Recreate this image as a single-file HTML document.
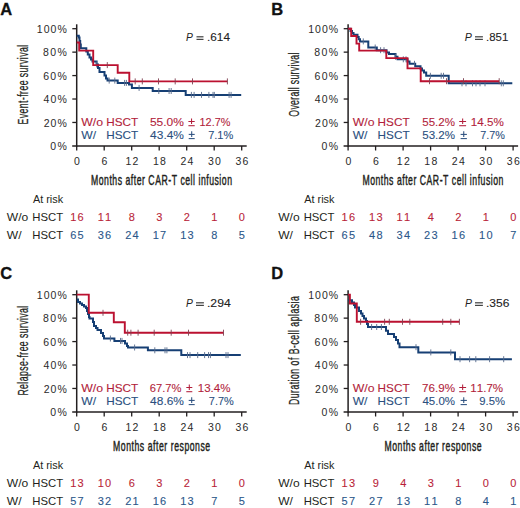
<!DOCTYPE html>
<html><head><meta charset="utf-8"><style>
html,body{margin:0;padding:0;background:#fff;width:520px;height:508px;overflow:hidden}
svg{display:block;font-family:"Liberation Sans", sans-serif;font-kerning:none}
</style></head><body>
<svg width="520" height="508" viewBox="0 0 520 508">
<rect width="520" height="508" fill="#fff"/>
<g><text x="0.30" y="14.70" font-size="16.5" fill="#111" font-weight="bold" stroke="#111" stroke-width="0.3">A</text><line x1="76.70" y1="24.30" x2="76.70" y2="146.65" stroke="#231f20" stroke-width="1.5"/><line x1="72.20" y1="145.90" x2="246.70" y2="145.90" stroke="#231f20" stroke-width="1.5"/><line x1="72.30" y1="122.46" x2="76.70" y2="122.46" stroke="#231f20" stroke-width="1.3"/><line x1="72.30" y1="99.02" x2="76.70" y2="99.02" stroke="#231f20" stroke-width="1.3"/><line x1="72.30" y1="75.58" x2="76.70" y2="75.58" stroke="#231f20" stroke-width="1.3"/><line x1="72.30" y1="52.14" x2="76.70" y2="52.14" stroke="#231f20" stroke-width="1.3"/><line x1="72.30" y1="28.70" x2="76.70" y2="28.70" stroke="#231f20" stroke-width="1.3"/><line x1="76.70" y1="145.90" x2="76.70" y2="150.50" stroke="#231f20" stroke-width="1.3"/><line x1="104.20" y1="145.90" x2="104.20" y2="150.50" stroke="#231f20" stroke-width="1.3"/><line x1="131.70" y1="145.90" x2="131.70" y2="150.50" stroke="#231f20" stroke-width="1.3"/><line x1="159.20" y1="145.90" x2="159.20" y2="150.50" stroke="#231f20" stroke-width="1.3"/><line x1="186.70" y1="145.90" x2="186.70" y2="150.50" stroke="#231f20" stroke-width="1.3"/><line x1="214.20" y1="145.90" x2="214.20" y2="150.50" stroke="#231f20" stroke-width="1.3"/><line x1="241.70" y1="145.90" x2="241.70" y2="150.50" stroke="#231f20" stroke-width="1.3"/><text x="50.19" y="150.00" font-size="10.5" fill="#2a2a2a" textLength="16.58" lengthAdjust="spacing">0%</text><text x="43.67" y="126.56" font-size="10.5" fill="#2a2a2a" textLength="23.10" lengthAdjust="spacing">20%</text><text x="43.46" y="103.12" font-size="10.5" fill="#2a2a2a" textLength="23.32" lengthAdjust="spacing">40%</text><text x="43.17" y="79.68" font-size="10.5" fill="#2a2a2a" textLength="23.61" lengthAdjust="spacing">60%</text><text x="42.94" y="56.24" font-size="10.5" fill="#2a2a2a" textLength="23.83" lengthAdjust="spacing">80%</text><text x="36.80" y="32.80" font-size="10.5" fill="#2a2a2a" textLength="29.97" lengthAdjust="spacing">100%</text><text x="76.90" y="165.40" font-size="10.5" fill="#2a2a2a" text-anchor="middle">0</text><text x="104.40" y="165.40" font-size="10.5" fill="#2a2a2a" text-anchor="middle">6</text><text x="131.90" y="165.40" font-size="10.5" fill="#2a2a2a" text-anchor="middle" textLength="12.98" lengthAdjust="spacing">12</text><text x="159.40" y="165.40" font-size="10.5" fill="#2a2a2a" text-anchor="middle" textLength="12.98" lengthAdjust="spacing">18</text><text x="186.90" y="165.40" font-size="10.5" fill="#2a2a2a" text-anchor="middle" textLength="12.98" lengthAdjust="spacing">24</text><text x="214.40" y="165.40" font-size="10.5" fill="#2a2a2a" text-anchor="middle" textLength="12.98" lengthAdjust="spacing">30</text><text x="241.90" y="165.40" font-size="10.5" fill="#2a2a2a" text-anchor="middle" textLength="12.98" lengthAdjust="spacing">36</text><text transform="translate(27.90,84.65) rotate(-90) scale(0.62,1)" font-size="14" text-anchor="middle" fill="#231f20" stroke="#231f20" stroke-width="0.25" textLength="128.39" lengthAdjust="spacing">Event-free survival</text><text transform="translate(91.00,184.60) scale(0.62,1)" font-size="14" fill="#231f20" stroke="#231f20" stroke-width="0.45" textLength="227.42" lengthAdjust="spacing">Months after CAR-T cell infusion</text><text x="186.08" y="41.20" font-size="11.5" font-style="italic" fill="#222" textLength="6.88" lengthAdjust="spacingAndGlyphs">P</text><line x1="196.50" y1="36.80" x2="203.50" y2="36.80" stroke="#444" stroke-width="1.25"/><line x1="196.50" y1="39.40" x2="203.50" y2="39.40" stroke="#444" stroke-width="1.25"/><text x="207.02" y="41.20" font-size="11.5" fill="#222" textLength="22.92" lengthAdjust="spacingAndGlyphs" stroke="#222" stroke-width="0.1">.614</text><text x="81.25" y="126.40" font-size="11.5" fill="#b21e3b" textLength="21.87" lengthAdjust="spacingAndGlyphs" stroke="#b21e3b" stroke-width="0.1">W/o</text><text x="106.24" y="126.40" font-size="11.5" fill="#b21e3b" textLength="31.93" lengthAdjust="spacingAndGlyphs" stroke="#b21e3b" stroke-width="0.1">HSCT</text><text x="149.92" y="126.40" font-size="11.5" fill="#b21e3b" textLength="34.01" lengthAdjust="spacingAndGlyphs" stroke="#b21e3b" stroke-width="0.1">55.0%</text><line x1="191.55" y1="118.40" x2="191.55" y2="124.00" stroke="#b21e3b" stroke-width="1.05"/><line x1="188.40" y1="121.50" x2="194.70" y2="121.50" stroke="#b21e3b" stroke-width="1.05"/><line x1="188.40" y1="125.70" x2="194.70" y2="125.70" stroke="#b21e3b" stroke-width="1.05"/><text x="199.57" y="126.40" font-size="11.5" fill="#b21e3b" textLength="30.82" lengthAdjust="spacingAndGlyphs" stroke="#b21e3b" stroke-width="0.1">12.7%</text><text x="81.25" y="139.30" font-size="11.5" fill="#2b4f7e" textLength="14.85" lengthAdjust="spacingAndGlyphs" stroke="#2b4f7e" stroke-width="0.1">W/</text><text x="106.24" y="139.30" font-size="11.5" fill="#2b4f7e" textLength="31.93" lengthAdjust="spacingAndGlyphs" stroke="#2b4f7e" stroke-width="0.1">HSCT</text><text x="150.13" y="139.30" font-size="11.5" fill="#2b4f7e" textLength="33.80" lengthAdjust="spacingAndGlyphs" stroke="#2b4f7e" stroke-width="0.1">43.4%</text><line x1="191.70" y1="131.30" x2="191.70" y2="136.90" stroke="#2b4f7e" stroke-width="1.05"/><line x1="188.70" y1="134.40" x2="194.70" y2="134.40" stroke="#2b4f7e" stroke-width="1.05"/><line x1="188.70" y1="138.60" x2="194.70" y2="138.60" stroke="#2b4f7e" stroke-width="1.05"/><text x="208.13" y="139.30" font-size="11.5" fill="#2b4f7e" textLength="25.16" lengthAdjust="spacingAndGlyphs" stroke="#2b4f7e" stroke-width="0.1">7.1%</text><text x="32.88" y="203.10" font-size="11" fill="#231f20" textLength="30.21" lengthAdjust="spacingAndGlyphs">At risk</text><text x="6.75" y="221.00" font-size="11" fill="#231f20" textLength="21.46" lengthAdjust="spacingAndGlyphs">W/o</text><text x="32.27" y="221.00" font-size="11" fill="#231f20" textLength="30.79" lengthAdjust="spacingAndGlyphs">HSCT</text><text x="6.75" y="238.50" font-size="11" fill="#231f20" textLength="14.75" lengthAdjust="spacingAndGlyphs">W/</text><text x="32.27" y="238.50" font-size="11" fill="#231f20" textLength="30.79" lengthAdjust="spacingAndGlyphs">HSCT</text><text x="76.90" y="221.00" font-size="11" fill="#b91f3a" text-anchor="middle" textLength="13.44" lengthAdjust="spacing" stroke="#b91f3a" stroke-width="0.1">16</text><text x="76.90" y="238.50" font-size="11" fill="#2b578a" text-anchor="middle" textLength="13.44" lengthAdjust="spacing" stroke="#2b578a" stroke-width="0.1">65</text><text x="104.40" y="221.00" font-size="11" fill="#b91f3a" text-anchor="middle" textLength="13.44" lengthAdjust="spacing" stroke="#b91f3a" stroke-width="0.1">11</text><text x="104.40" y="238.50" font-size="11" fill="#2b578a" text-anchor="middle" textLength="13.44" lengthAdjust="spacing" stroke="#2b578a" stroke-width="0.1">36</text><text x="131.90" y="221.00" font-size="11" fill="#b91f3a" text-anchor="middle" stroke="#b91f3a" stroke-width="0.1">8</text><text x="131.90" y="238.50" font-size="11" fill="#2b578a" text-anchor="middle" textLength="13.44" lengthAdjust="spacing" stroke="#2b578a" stroke-width="0.1">24</text><text x="159.40" y="221.00" font-size="11" fill="#b91f3a" text-anchor="middle" stroke="#b91f3a" stroke-width="0.1">3</text><text x="159.40" y="238.50" font-size="11" fill="#2b578a" text-anchor="middle" textLength="13.44" lengthAdjust="spacing" stroke="#2b578a" stroke-width="0.1">17</text><text x="186.90" y="221.00" font-size="11" fill="#b91f3a" text-anchor="middle" stroke="#b91f3a" stroke-width="0.1">2</text><text x="186.90" y="238.50" font-size="11" fill="#2b578a" text-anchor="middle" textLength="13.44" lengthAdjust="spacing" stroke="#2b578a" stroke-width="0.1">13</text><text x="214.40" y="221.00" font-size="11" fill="#b91f3a" text-anchor="middle" stroke="#b91f3a" stroke-width="0.1">1</text><text x="214.40" y="238.50" font-size="11" fill="#2b578a" text-anchor="middle" stroke="#2b578a" stroke-width="0.1">8</text><text x="241.90" y="221.00" font-size="11" fill="#b91f3a" text-anchor="middle" stroke="#b91f3a" stroke-width="0.1">0</text><text x="241.90" y="238.50" font-size="11" fill="#2b578a" text-anchor="middle" stroke="#2b578a" stroke-width="0.1">5</text></g><g><text x="271.20" y="14.70" font-size="16.5" fill="#111" font-weight="bold" stroke="#111" stroke-width="0.3">B</text><line x1="348.10" y1="24.30" x2="348.10" y2="146.65" stroke="#231f20" stroke-width="1.5"/><line x1="343.60" y1="145.90" x2="518.10" y2="145.90" stroke="#231f20" stroke-width="1.5"/><line x1="343.70" y1="122.46" x2="348.10" y2="122.46" stroke="#231f20" stroke-width="1.3"/><line x1="343.70" y1="99.02" x2="348.10" y2="99.02" stroke="#231f20" stroke-width="1.3"/><line x1="343.70" y1="75.58" x2="348.10" y2="75.58" stroke="#231f20" stroke-width="1.3"/><line x1="343.70" y1="52.14" x2="348.10" y2="52.14" stroke="#231f20" stroke-width="1.3"/><line x1="343.70" y1="28.70" x2="348.10" y2="28.70" stroke="#231f20" stroke-width="1.3"/><line x1="348.10" y1="145.90" x2="348.10" y2="150.50" stroke="#231f20" stroke-width="1.3"/><line x1="375.60" y1="145.90" x2="375.60" y2="150.50" stroke="#231f20" stroke-width="1.3"/><line x1="403.10" y1="145.90" x2="403.10" y2="150.50" stroke="#231f20" stroke-width="1.3"/><line x1="430.60" y1="145.90" x2="430.60" y2="150.50" stroke="#231f20" stroke-width="1.3"/><line x1="458.10" y1="145.90" x2="458.10" y2="150.50" stroke="#231f20" stroke-width="1.3"/><line x1="485.60" y1="145.90" x2="485.60" y2="150.50" stroke="#231f20" stroke-width="1.3"/><line x1="513.10" y1="145.90" x2="513.10" y2="150.50" stroke="#231f20" stroke-width="1.3"/><text x="321.59" y="150.00" font-size="10.5" fill="#2a2a2a" textLength="16.58" lengthAdjust="spacing">0%</text><text x="315.07" y="126.56" font-size="10.5" fill="#2a2a2a" textLength="23.10" lengthAdjust="spacing">20%</text><text x="314.86" y="103.12" font-size="10.5" fill="#2a2a2a" textLength="23.32" lengthAdjust="spacing">40%</text><text x="314.57" y="79.68" font-size="10.5" fill="#2a2a2a" textLength="23.61" lengthAdjust="spacing">60%</text><text x="314.34" y="56.24" font-size="10.5" fill="#2a2a2a" textLength="23.83" lengthAdjust="spacing">80%</text><text x="308.20" y="32.80" font-size="10.5" fill="#2a2a2a" textLength="29.97" lengthAdjust="spacing">100%</text><text x="348.30" y="165.40" font-size="10.5" fill="#2a2a2a" text-anchor="middle">0</text><text x="375.80" y="165.40" font-size="10.5" fill="#2a2a2a" text-anchor="middle">6</text><text x="403.30" y="165.40" font-size="10.5" fill="#2a2a2a" text-anchor="middle" textLength="12.98" lengthAdjust="spacing">12</text><text x="430.80" y="165.40" font-size="10.5" fill="#2a2a2a" text-anchor="middle" textLength="12.98" lengthAdjust="spacing">18</text><text x="458.30" y="165.40" font-size="10.5" fill="#2a2a2a" text-anchor="middle" textLength="12.98" lengthAdjust="spacing">24</text><text x="485.80" y="165.40" font-size="10.5" fill="#2a2a2a" text-anchor="middle" textLength="12.98" lengthAdjust="spacing">30</text><text x="513.30" y="165.40" font-size="10.5" fill="#2a2a2a" text-anchor="middle" textLength="12.98" lengthAdjust="spacing">36</text><text transform="translate(299.30,84.65) rotate(-90) scale(0.62,1)" font-size="14" text-anchor="middle" fill="#231f20" stroke="#231f20" stroke-width="0.25" textLength="103.23" lengthAdjust="spacing">Overall survival</text><text transform="translate(362.40,184.60) scale(0.62,1)" font-size="14" fill="#231f20" stroke="#231f20" stroke-width="0.45" textLength="227.42" lengthAdjust="spacing">Months after CAR-T cell infusion</text><text x="464.87" y="41.20" font-size="11.5" font-style="italic" fill="#222" textLength="7.09" lengthAdjust="spacingAndGlyphs">P</text><line x1="475.00" y1="36.80" x2="482.90" y2="36.80" stroke="#444" stroke-width="1.25"/><line x1="475.00" y1="39.40" x2="482.90" y2="39.40" stroke="#444" stroke-width="1.25"/><text x="486.06" y="41.20" font-size="11.5" fill="#222" textLength="22.20" lengthAdjust="spacingAndGlyphs" stroke="#222" stroke-width="0.1">.851</text><text x="352.65" y="126.40" font-size="11.5" fill="#b21e3b" textLength="21.87" lengthAdjust="spacingAndGlyphs" stroke="#b21e3b" stroke-width="0.1">W/o</text><text x="377.64" y="126.40" font-size="11.5" fill="#b21e3b" textLength="31.93" lengthAdjust="spacingAndGlyphs" stroke="#b21e3b" stroke-width="0.1">HSCT</text><text x="422.24" y="126.40" font-size="11.5" fill="#b21e3b" textLength="32.77" lengthAdjust="spacingAndGlyphs" stroke="#b21e3b" stroke-width="0.1">55.2%</text><line x1="462.65" y1="118.40" x2="462.65" y2="124.00" stroke="#b21e3b" stroke-width="1.05"/><line x1="459.20" y1="121.50" x2="466.10" y2="121.50" stroke="#b21e3b" stroke-width="1.05"/><line x1="459.20" y1="125.70" x2="466.10" y2="125.70" stroke="#b21e3b" stroke-width="1.05"/><text x="470.81" y="126.40" font-size="11.5" fill="#b21e3b" textLength="33.00" lengthAdjust="spacingAndGlyphs" stroke="#b21e3b" stroke-width="0.1">14.5%</text><text x="352.65" y="139.30" font-size="11.5" fill="#2b4f7e" textLength="14.85" lengthAdjust="spacingAndGlyphs" stroke="#2b4f7e" stroke-width="0.1">W/</text><text x="377.64" y="139.30" font-size="11.5" fill="#2b4f7e" textLength="31.93" lengthAdjust="spacingAndGlyphs" stroke="#2b4f7e" stroke-width="0.1">HSCT</text><text x="422.24" y="139.30" font-size="11.5" fill="#2b4f7e" textLength="32.77" lengthAdjust="spacingAndGlyphs" stroke="#2b4f7e" stroke-width="0.1">53.2%</text><line x1="463.75" y1="131.30" x2="463.75" y2="136.90" stroke="#2b4f7e" stroke-width="1.05"/><line x1="460.60" y1="134.40" x2="466.90" y2="134.40" stroke="#2b4f7e" stroke-width="1.05"/><line x1="460.60" y1="138.60" x2="466.90" y2="138.60" stroke="#2b4f7e" stroke-width="1.05"/><text x="480.24" y="139.30" font-size="11.5" fill="#2b4f7e" textLength="24.74" lengthAdjust="spacingAndGlyphs" stroke="#2b4f7e" stroke-width="0.1">7.7%</text><text x="304.28" y="203.10" font-size="11" fill="#231f20" textLength="30.21" lengthAdjust="spacingAndGlyphs">At risk</text><text x="278.15" y="221.00" font-size="11" fill="#231f20" textLength="21.46" lengthAdjust="spacingAndGlyphs">W/o</text><text x="303.67" y="221.00" font-size="11" fill="#231f20" textLength="30.79" lengthAdjust="spacingAndGlyphs">HSCT</text><text x="278.15" y="238.50" font-size="11" fill="#231f20" textLength="14.75" lengthAdjust="spacingAndGlyphs">W/</text><text x="303.67" y="238.50" font-size="11" fill="#231f20" textLength="30.79" lengthAdjust="spacingAndGlyphs">HSCT</text><text x="348.30" y="221.00" font-size="11" fill="#b91f3a" text-anchor="middle" textLength="13.44" lengthAdjust="spacing" stroke="#b91f3a" stroke-width="0.1">16</text><text x="348.30" y="238.50" font-size="11" fill="#2b578a" text-anchor="middle" textLength="13.44" lengthAdjust="spacing" stroke="#2b578a" stroke-width="0.1">65</text><text x="375.80" y="221.00" font-size="11" fill="#b91f3a" text-anchor="middle" textLength="13.44" lengthAdjust="spacing" stroke="#b91f3a" stroke-width="0.1">13</text><text x="375.80" y="238.50" font-size="11" fill="#2b578a" text-anchor="middle" textLength="13.44" lengthAdjust="spacing" stroke="#2b578a" stroke-width="0.1">48</text><text x="403.30" y="221.00" font-size="11" fill="#b91f3a" text-anchor="middle" textLength="13.44" lengthAdjust="spacing" stroke="#b91f3a" stroke-width="0.1">11</text><text x="403.30" y="238.50" font-size="11" fill="#2b578a" text-anchor="middle" textLength="13.44" lengthAdjust="spacing" stroke="#2b578a" stroke-width="0.1">34</text><text x="430.80" y="221.00" font-size="11" fill="#b91f3a" text-anchor="middle" stroke="#b91f3a" stroke-width="0.1">4</text><text x="430.80" y="238.50" font-size="11" fill="#2b578a" text-anchor="middle" textLength="13.44" lengthAdjust="spacing" stroke="#2b578a" stroke-width="0.1">23</text><text x="458.30" y="221.00" font-size="11" fill="#b91f3a" text-anchor="middle" stroke="#b91f3a" stroke-width="0.1">2</text><text x="458.30" y="238.50" font-size="11" fill="#2b578a" text-anchor="middle" textLength="13.44" lengthAdjust="spacing" stroke="#2b578a" stroke-width="0.1">16</text><text x="485.80" y="221.00" font-size="11" fill="#b91f3a" text-anchor="middle" stroke="#b91f3a" stroke-width="0.1">1</text><text x="485.80" y="238.50" font-size="11" fill="#2b578a" text-anchor="middle" textLength="13.44" lengthAdjust="spacing" stroke="#2b578a" stroke-width="0.1">10</text><text x="513.30" y="221.00" font-size="11" fill="#b91f3a" text-anchor="middle" stroke="#b91f3a" stroke-width="0.1">0</text><text x="513.30" y="238.50" font-size="11" fill="#2b578a" text-anchor="middle" stroke="#2b578a" stroke-width="0.1">7</text></g><g><text x="0.30" y="279.20" font-size="16.5" fill="#111" font-weight="bold" stroke="#111" stroke-width="0.3">C</text><line x1="76.70" y1="290.30" x2="76.70" y2="412.65" stroke="#231f20" stroke-width="1.5"/><line x1="72.20" y1="411.90" x2="246.70" y2="411.90" stroke="#231f20" stroke-width="1.5"/><line x1="72.30" y1="388.46" x2="76.70" y2="388.46" stroke="#231f20" stroke-width="1.3"/><line x1="72.30" y1="365.02" x2="76.70" y2="365.02" stroke="#231f20" stroke-width="1.3"/><line x1="72.30" y1="341.58" x2="76.70" y2="341.58" stroke="#231f20" stroke-width="1.3"/><line x1="72.30" y1="318.14" x2="76.70" y2="318.14" stroke="#231f20" stroke-width="1.3"/><line x1="72.30" y1="294.70" x2="76.70" y2="294.70" stroke="#231f20" stroke-width="1.3"/><line x1="76.70" y1="411.90" x2="76.70" y2="416.50" stroke="#231f20" stroke-width="1.3"/><line x1="104.20" y1="411.90" x2="104.20" y2="416.50" stroke="#231f20" stroke-width="1.3"/><line x1="131.70" y1="411.90" x2="131.70" y2="416.50" stroke="#231f20" stroke-width="1.3"/><line x1="159.20" y1="411.90" x2="159.20" y2="416.50" stroke="#231f20" stroke-width="1.3"/><line x1="186.70" y1="411.90" x2="186.70" y2="416.50" stroke="#231f20" stroke-width="1.3"/><line x1="214.20" y1="411.90" x2="214.20" y2="416.50" stroke="#231f20" stroke-width="1.3"/><line x1="241.70" y1="411.90" x2="241.70" y2="416.50" stroke="#231f20" stroke-width="1.3"/><text x="50.19" y="416.00" font-size="10.5" fill="#2a2a2a" textLength="16.58" lengthAdjust="spacing">0%</text><text x="43.67" y="392.56" font-size="10.5" fill="#2a2a2a" textLength="23.10" lengthAdjust="spacing">20%</text><text x="43.46" y="369.12" font-size="10.5" fill="#2a2a2a" textLength="23.32" lengthAdjust="spacing">40%</text><text x="43.17" y="345.68" font-size="10.5" fill="#2a2a2a" textLength="23.61" lengthAdjust="spacing">60%</text><text x="42.94" y="322.24" font-size="10.5" fill="#2a2a2a" textLength="23.83" lengthAdjust="spacing">80%</text><text x="36.80" y="298.80" font-size="10.5" fill="#2a2a2a" textLength="29.97" lengthAdjust="spacing">100%</text><text x="76.90" y="431.40" font-size="10.5" fill="#2a2a2a" text-anchor="middle">0</text><text x="104.40" y="431.40" font-size="10.5" fill="#2a2a2a" text-anchor="middle">6</text><text x="131.90" y="431.40" font-size="10.5" fill="#2a2a2a" text-anchor="middle" textLength="12.98" lengthAdjust="spacing">12</text><text x="159.40" y="431.40" font-size="10.5" fill="#2a2a2a" text-anchor="middle" textLength="12.98" lengthAdjust="spacing">18</text><text x="186.90" y="431.40" font-size="10.5" fill="#2a2a2a" text-anchor="middle" textLength="12.98" lengthAdjust="spacing">24</text><text x="214.40" y="431.40" font-size="10.5" fill="#2a2a2a" text-anchor="middle" textLength="12.98" lengthAdjust="spacing">30</text><text x="241.90" y="431.40" font-size="10.5" fill="#2a2a2a" text-anchor="middle" textLength="12.98" lengthAdjust="spacing">36</text><text transform="translate(27.90,350.65) rotate(-90) scale(0.62,1)" font-size="14" text-anchor="middle" fill="#231f20" stroke="#231f20" stroke-width="0.25" textLength="145.00" lengthAdjust="spacing">Relapse-free survival</text><text transform="translate(113.00,450.60) scale(0.62,1)" font-size="14" fill="#231f20" stroke="#231f20" stroke-width="0.45" textLength="156.77" lengthAdjust="spacing">Months after response</text><text x="186.08" y="307.20" font-size="11.5" font-style="italic" fill="#222" textLength="6.88" lengthAdjust="spacingAndGlyphs">P</text><line x1="196.00" y1="302.80" x2="203.90" y2="302.80" stroke="#444" stroke-width="1.25"/><line x1="196.00" y1="305.40" x2="203.90" y2="305.40" stroke="#444" stroke-width="1.25"/><text x="206.98" y="307.20" font-size="11.5" fill="#222" textLength="23.77" lengthAdjust="spacingAndGlyphs" stroke="#222" stroke-width="0.1">.294</text><text x="81.25" y="392.40" font-size="11.5" fill="#b21e3b" textLength="21.87" lengthAdjust="spacingAndGlyphs" stroke="#b21e3b" stroke-width="0.1">W/o</text><text x="106.24" y="392.40" font-size="11.5" fill="#b21e3b" textLength="31.93" lengthAdjust="spacingAndGlyphs" stroke="#b21e3b" stroke-width="0.1">HSCT</text><text x="149.83" y="392.40" font-size="11.5" fill="#b21e3b" textLength="31.67" lengthAdjust="spacingAndGlyphs" stroke="#b21e3b" stroke-width="0.1">67.7%</text><line x1="189.30" y1="384.40" x2="189.30" y2="390.00" stroke="#b21e3b" stroke-width="1.05"/><line x1="186.30" y1="387.50" x2="192.30" y2="387.50" stroke="#b21e3b" stroke-width="1.05"/><line x1="186.30" y1="391.70" x2="192.30" y2="391.70" stroke="#b21e3b" stroke-width="1.05"/><text x="197.82" y="392.40" font-size="11.5" fill="#b21e3b" textLength="32.58" lengthAdjust="spacingAndGlyphs" stroke="#b21e3b" stroke-width="0.1">13.4%</text><text x="81.25" y="405.30" font-size="11.5" fill="#2b4f7e" textLength="14.85" lengthAdjust="spacingAndGlyphs" stroke="#2b4f7e" stroke-width="0.1">W/</text><text x="106.24" y="405.30" font-size="11.5" fill="#2b4f7e" textLength="31.93" lengthAdjust="spacingAndGlyphs" stroke="#2b4f7e" stroke-width="0.1">HSCT</text><text x="150.13" y="405.30" font-size="11.5" fill="#2b4f7e" textLength="33.80" lengthAdjust="spacingAndGlyphs" stroke="#2b4f7e" stroke-width="0.1">48.6%</text><line x1="191.70" y1="397.30" x2="191.70" y2="402.90" stroke="#2b4f7e" stroke-width="1.05"/><line x1="188.70" y1="400.40" x2="194.70" y2="400.40" stroke="#2b4f7e" stroke-width="1.05"/><line x1="188.70" y1="404.60" x2="194.70" y2="404.60" stroke="#2b4f7e" stroke-width="1.05"/><text x="208.84" y="405.30" font-size="11.5" fill="#2b4f7e" textLength="24.95" lengthAdjust="spacingAndGlyphs" stroke="#2b4f7e" stroke-width="0.1">7.7%</text><text x="32.88" y="469.10" font-size="11" fill="#231f20" textLength="30.21" lengthAdjust="spacingAndGlyphs">At risk</text><text x="6.75" y="487.00" font-size="11" fill="#231f20" textLength="21.46" lengthAdjust="spacingAndGlyphs">W/o</text><text x="32.27" y="487.00" font-size="11" fill="#231f20" textLength="30.79" lengthAdjust="spacingAndGlyphs">HSCT</text><text x="6.75" y="504.50" font-size="11" fill="#231f20" textLength="14.75" lengthAdjust="spacingAndGlyphs">W/</text><text x="32.27" y="504.50" font-size="11" fill="#231f20" textLength="30.79" lengthAdjust="spacingAndGlyphs">HSCT</text><text x="76.90" y="487.00" font-size="11" fill="#b91f3a" text-anchor="middle" textLength="13.44" lengthAdjust="spacing" stroke="#b91f3a" stroke-width="0.1">13</text><text x="76.90" y="504.50" font-size="11" fill="#2b578a" text-anchor="middle" textLength="13.44" lengthAdjust="spacing" stroke="#2b578a" stroke-width="0.1">57</text><text x="104.40" y="487.00" font-size="11" fill="#b91f3a" text-anchor="middle" textLength="13.44" lengthAdjust="spacing" stroke="#b91f3a" stroke-width="0.1">10</text><text x="104.40" y="504.50" font-size="11" fill="#2b578a" text-anchor="middle" textLength="13.44" lengthAdjust="spacing" stroke="#2b578a" stroke-width="0.1">32</text><text x="131.90" y="487.00" font-size="11" fill="#b91f3a" text-anchor="middle" stroke="#b91f3a" stroke-width="0.1">6</text><text x="131.90" y="504.50" font-size="11" fill="#2b578a" text-anchor="middle" textLength="13.44" lengthAdjust="spacing" stroke="#2b578a" stroke-width="0.1">21</text><text x="159.40" y="487.00" font-size="11" fill="#b91f3a" text-anchor="middle" stroke="#b91f3a" stroke-width="0.1">3</text><text x="159.40" y="504.50" font-size="11" fill="#2b578a" text-anchor="middle" textLength="13.44" lengthAdjust="spacing" stroke="#2b578a" stroke-width="0.1">16</text><text x="186.90" y="487.00" font-size="11" fill="#b91f3a" text-anchor="middle" stroke="#b91f3a" stroke-width="0.1">2</text><text x="186.90" y="504.50" font-size="11" fill="#2b578a" text-anchor="middle" textLength="13.44" lengthAdjust="spacing" stroke="#2b578a" stroke-width="0.1">13</text><text x="214.40" y="487.00" font-size="11" fill="#b91f3a" text-anchor="middle" stroke="#b91f3a" stroke-width="0.1">1</text><text x="214.40" y="504.50" font-size="11" fill="#2b578a" text-anchor="middle" stroke="#2b578a" stroke-width="0.1">7</text><text x="241.90" y="487.00" font-size="11" fill="#b91f3a" text-anchor="middle" stroke="#b91f3a" stroke-width="0.1">0</text><text x="241.90" y="504.50" font-size="11" fill="#2b578a" text-anchor="middle" stroke="#2b578a" stroke-width="0.1">5</text></g><g><text x="271.20" y="279.20" font-size="16.5" fill="#111" font-weight="bold" stroke="#111" stroke-width="0.3">D</text><line x1="348.10" y1="290.30" x2="348.10" y2="412.65" stroke="#231f20" stroke-width="1.5"/><line x1="343.60" y1="411.90" x2="518.10" y2="411.90" stroke="#231f20" stroke-width="1.5"/><line x1="343.70" y1="388.46" x2="348.10" y2="388.46" stroke="#231f20" stroke-width="1.3"/><line x1="343.70" y1="365.02" x2="348.10" y2="365.02" stroke="#231f20" stroke-width="1.3"/><line x1="343.70" y1="341.58" x2="348.10" y2="341.58" stroke="#231f20" stroke-width="1.3"/><line x1="343.70" y1="318.14" x2="348.10" y2="318.14" stroke="#231f20" stroke-width="1.3"/><line x1="343.70" y1="294.70" x2="348.10" y2="294.70" stroke="#231f20" stroke-width="1.3"/><line x1="348.10" y1="411.90" x2="348.10" y2="416.50" stroke="#231f20" stroke-width="1.3"/><line x1="375.60" y1="411.90" x2="375.60" y2="416.50" stroke="#231f20" stroke-width="1.3"/><line x1="403.10" y1="411.90" x2="403.10" y2="416.50" stroke="#231f20" stroke-width="1.3"/><line x1="430.60" y1="411.90" x2="430.60" y2="416.50" stroke="#231f20" stroke-width="1.3"/><line x1="458.10" y1="411.90" x2="458.10" y2="416.50" stroke="#231f20" stroke-width="1.3"/><line x1="485.60" y1="411.90" x2="485.60" y2="416.50" stroke="#231f20" stroke-width="1.3"/><line x1="513.10" y1="411.90" x2="513.10" y2="416.50" stroke="#231f20" stroke-width="1.3"/><text x="321.59" y="416.00" font-size="10.5" fill="#2a2a2a" textLength="16.58" lengthAdjust="spacing">0%</text><text x="315.07" y="392.56" font-size="10.5" fill="#2a2a2a" textLength="23.10" lengthAdjust="spacing">20%</text><text x="314.86" y="369.12" font-size="10.5" fill="#2a2a2a" textLength="23.32" lengthAdjust="spacing">40%</text><text x="314.57" y="345.68" font-size="10.5" fill="#2a2a2a" textLength="23.61" lengthAdjust="spacing">60%</text><text x="314.34" y="322.24" font-size="10.5" fill="#2a2a2a" textLength="23.83" lengthAdjust="spacing">80%</text><text x="308.20" y="298.80" font-size="10.5" fill="#2a2a2a" textLength="29.97" lengthAdjust="spacing">100%</text><text x="348.30" y="431.40" font-size="10.5" fill="#2a2a2a" text-anchor="middle">0</text><text x="375.80" y="431.40" font-size="10.5" fill="#2a2a2a" text-anchor="middle">6</text><text x="403.30" y="431.40" font-size="10.5" fill="#2a2a2a" text-anchor="middle" textLength="12.98" lengthAdjust="spacing">12</text><text x="430.80" y="431.40" font-size="10.5" fill="#2a2a2a" text-anchor="middle" textLength="12.98" lengthAdjust="spacing">18</text><text x="458.30" y="431.40" font-size="10.5" fill="#2a2a2a" text-anchor="middle" textLength="12.98" lengthAdjust="spacing">24</text><text x="485.80" y="431.40" font-size="10.5" fill="#2a2a2a" text-anchor="middle" textLength="12.98" lengthAdjust="spacing">30</text><text x="513.30" y="431.40" font-size="10.5" fill="#2a2a2a" text-anchor="middle" textLength="12.98" lengthAdjust="spacing">36</text><text transform="translate(299.30,350.65) rotate(-90) scale(0.62,1)" font-size="14" text-anchor="middle" fill="#231f20" stroke="#231f20" stroke-width="0.25" textLength="175.65" lengthAdjust="spacing">Duration of B-cell aplasia</text><text transform="translate(384.40,450.60) scale(0.62,1)" font-size="14" fill="#231f20" stroke="#231f20" stroke-width="0.45" textLength="156.77" lengthAdjust="spacing">Months after response</text><text x="464.88" y="307.20" font-size="11.5" font-style="italic" fill="#222" textLength="6.99" lengthAdjust="spacingAndGlyphs">P</text><line x1="475.00" y1="302.80" x2="482.90" y2="302.80" stroke="#444" stroke-width="1.25"/><line x1="475.00" y1="305.40" x2="482.90" y2="305.40" stroke="#444" stroke-width="1.25"/><text x="486.01" y="307.20" font-size="11.5" fill="#222" textLength="23.32" lengthAdjust="spacingAndGlyphs" stroke="#222" stroke-width="0.1">.356</text><text x="352.65" y="392.40" font-size="11.5" fill="#b21e3b" textLength="21.87" lengthAdjust="spacingAndGlyphs" stroke="#b21e3b" stroke-width="0.1">W/o</text><text x="377.64" y="392.40" font-size="11.5" fill="#b21e3b" textLength="31.93" lengthAdjust="spacingAndGlyphs" stroke="#b21e3b" stroke-width="0.1">HSCT</text><text x="422.10" y="392.40" font-size="11.5" fill="#b21e3b" textLength="32.91" lengthAdjust="spacingAndGlyphs" stroke="#b21e3b" stroke-width="0.1">76.9%</text><line x1="462.65" y1="384.40" x2="462.65" y2="390.00" stroke="#b21e3b" stroke-width="1.05"/><line x1="459.20" y1="387.50" x2="466.10" y2="387.50" stroke="#b21e3b" stroke-width="1.05"/><line x1="459.20" y1="391.70" x2="466.10" y2="391.70" stroke="#b21e3b" stroke-width="1.05"/><text x="470.32" y="392.40" font-size="11.5" fill="#b21e3b" textLength="32.79" lengthAdjust="spacingAndGlyphs" stroke="#b21e3b" stroke-width="0.1">11.7%</text><text x="352.65" y="405.30" font-size="11.5" fill="#2b4f7e" textLength="14.85" lengthAdjust="spacingAndGlyphs" stroke="#2b4f7e" stroke-width="0.1">W/</text><text x="377.64" y="405.30" font-size="11.5" fill="#2b4f7e" textLength="31.93" lengthAdjust="spacingAndGlyphs" stroke="#2b4f7e" stroke-width="0.1">HSCT</text><text x="422.44" y="405.30" font-size="11.5" fill="#2b4f7e" textLength="32.57" lengthAdjust="spacingAndGlyphs" stroke="#2b4f7e" stroke-width="0.1">45.0%</text><line x1="463.75" y1="397.30" x2="463.75" y2="402.90" stroke="#2b4f7e" stroke-width="1.05"/><line x1="460.60" y1="400.40" x2="466.90" y2="400.40" stroke="#2b4f7e" stroke-width="1.05"/><line x1="460.60" y1="404.60" x2="466.90" y2="404.60" stroke="#2b4f7e" stroke-width="1.05"/><text x="479.27" y="405.30" font-size="11.5" fill="#2b4f7e" textLength="25.73" lengthAdjust="spacingAndGlyphs" stroke="#2b4f7e" stroke-width="0.1">9.5%</text><text x="304.28" y="469.10" font-size="11" fill="#231f20" textLength="30.21" lengthAdjust="spacingAndGlyphs">At risk</text><text x="278.15" y="487.00" font-size="11" fill="#231f20" textLength="21.46" lengthAdjust="spacingAndGlyphs">W/o</text><text x="303.67" y="487.00" font-size="11" fill="#231f20" textLength="30.79" lengthAdjust="spacingAndGlyphs">HSCT</text><text x="278.15" y="504.50" font-size="11" fill="#231f20" textLength="14.75" lengthAdjust="spacingAndGlyphs">W/</text><text x="303.67" y="504.50" font-size="11" fill="#231f20" textLength="30.79" lengthAdjust="spacingAndGlyphs">HSCT</text><text x="348.30" y="487.00" font-size="11" fill="#b91f3a" text-anchor="middle" textLength="13.44" lengthAdjust="spacing" stroke="#b91f3a" stroke-width="0.1">13</text><text x="348.30" y="504.50" font-size="11" fill="#2b578a" text-anchor="middle" textLength="13.44" lengthAdjust="spacing" stroke="#2b578a" stroke-width="0.1">57</text><text x="375.80" y="487.00" font-size="11" fill="#b91f3a" text-anchor="middle" stroke="#b91f3a" stroke-width="0.1">9</text><text x="375.80" y="504.50" font-size="11" fill="#2b578a" text-anchor="middle" textLength="13.44" lengthAdjust="spacing" stroke="#2b578a" stroke-width="0.1">27</text><text x="403.30" y="487.00" font-size="11" fill="#b91f3a" text-anchor="middle" stroke="#b91f3a" stroke-width="0.1">4</text><text x="403.30" y="504.50" font-size="11" fill="#2b578a" text-anchor="middle" textLength="13.44" lengthAdjust="spacing" stroke="#2b578a" stroke-width="0.1">13</text><text x="430.80" y="487.00" font-size="11" fill="#b91f3a" text-anchor="middle" stroke="#b91f3a" stroke-width="0.1">3</text><text x="430.80" y="504.50" font-size="11" fill="#2b578a" text-anchor="middle" textLength="13.44" lengthAdjust="spacing" stroke="#2b578a" stroke-width="0.1">11</text><text x="458.30" y="487.00" font-size="11" fill="#b91f3a" text-anchor="middle" stroke="#b91f3a" stroke-width="0.1">1</text><text x="458.30" y="504.50" font-size="11" fill="#2b578a" text-anchor="middle" stroke="#2b578a" stroke-width="0.1">8</text><text x="485.80" y="487.00" font-size="11" fill="#b91f3a" text-anchor="middle" stroke="#b91f3a" stroke-width="0.1">0</text><text x="485.80" y="504.50" font-size="11" fill="#2b578a" text-anchor="middle" stroke="#2b578a" stroke-width="0.1">4</text><text x="513.30" y="487.00" font-size="11" fill="#b91f3a" text-anchor="middle" stroke="#b91f3a" stroke-width="0.1">0</text><text x="513.30" y="504.50" font-size="11" fill="#2b578a" text-anchor="middle" stroke="#2b578a" stroke-width="0.1">1</text></g><path d="M76.70,35.80H78.80V37.50H79.50V41.00H80.20V44.50H80.80V48.20H86.30V51.50H87.80V54.50H89.50V57.50H91.00V59.50H92.50V61.50H96.60V64.50H98.00V68.00H99.50V72.00H104.50V75.50H106.00V78.50H107.50V80.60H117.70V82.90H129.00V84.60H131.90V87.90H152.70V91.00H185.70V94.90H241.20" fill="none" stroke="#163f74" stroke-width="2.0"/><line x1="96.60" y1="61.50" x2="96.60" y2="67.50" stroke="#56698a" stroke-width="0.9"/><line x1="109.20" y1="77.60" x2="109.20" y2="83.60" stroke="#56698a" stroke-width="0.9"/><line x1="114.80" y1="77.60" x2="114.80" y2="83.60" stroke="#56698a" stroke-width="0.9"/><line x1="124.60" y1="79.90" x2="124.60" y2="85.90" stroke="#56698a" stroke-width="0.9"/><line x1="126.40" y1="79.90" x2="126.40" y2="85.90" stroke="#56698a" stroke-width="0.9"/><line x1="139.10" y1="84.90" x2="139.10" y2="90.90" stroke="#56698a" stroke-width="0.9"/><line x1="158.80" y1="88.00" x2="158.80" y2="94.00" stroke="#56698a" stroke-width="0.9"/><line x1="169.10" y1="88.00" x2="169.10" y2="94.00" stroke="#56698a" stroke-width="0.9"/><line x1="171.20" y1="88.00" x2="171.20" y2="94.00" stroke="#56698a" stroke-width="0.9"/><line x1="191.40" y1="91.90" x2="191.40" y2="97.90" stroke="#56698a" stroke-width="0.9"/><line x1="194.10" y1="91.90" x2="194.10" y2="97.90" stroke="#56698a" stroke-width="0.9"/><line x1="201.50" y1="91.90" x2="201.50" y2="97.90" stroke="#56698a" stroke-width="0.9"/><line x1="208.90" y1="91.90" x2="208.90" y2="97.90" stroke="#56698a" stroke-width="0.9"/><line x1="213.00" y1="91.90" x2="213.00" y2="97.90" stroke="#56698a" stroke-width="0.9"/><line x1="214.30" y1="91.90" x2="214.30" y2="97.90" stroke="#56698a" stroke-width="0.9"/><line x1="229.10" y1="91.90" x2="229.10" y2="97.90" stroke="#56698a" stroke-width="0.9"/><line x1="231.10" y1="91.90" x2="231.10" y2="97.90" stroke="#56698a" stroke-width="0.9"/><path d="M348.10,28.70H350.50V31.00H352.00V33.00H353.50V34.70H357.50V37.00H358.70V39.20H360.00V41.40H368.30V47.50H376.80V50.20H386.50V52.50H389.00V54.00H395.50V56.80H397.50V59.30H407.50V61.40H409.50V63.80H415.20V66.30H420.50V68.50H422.00V70.50H424.00V72.50H426.20V75.80H448.70V83.30H512.30" fill="none" stroke="#163f74" stroke-width="2.0"/><line x1="363.30" y1="38.40" x2="363.30" y2="44.40" stroke="#56698a" stroke-width="0.9"/><line x1="375.20" y1="44.50" x2="375.20" y2="50.50" stroke="#56698a" stroke-width="0.9"/><line x1="380.60" y1="47.20" x2="380.60" y2="53.20" stroke="#56698a" stroke-width="0.9"/><line x1="384.00" y1="47.20" x2="384.00" y2="53.20" stroke="#56698a" stroke-width="0.9"/><line x1="395.60" y1="53.80" x2="395.60" y2="59.80" stroke="#56698a" stroke-width="0.9"/><line x1="403.30" y1="56.30" x2="403.30" y2="62.30" stroke="#56698a" stroke-width="0.9"/><line x1="406.00" y1="56.30" x2="406.00" y2="62.30" stroke="#56698a" stroke-width="0.9"/><line x1="414.50" y1="60.80" x2="414.50" y2="66.80" stroke="#56698a" stroke-width="0.9"/><line x1="430.40" y1="72.80" x2="430.40" y2="78.80" stroke="#56698a" stroke-width="0.9"/><line x1="441.20" y1="72.80" x2="441.20" y2="78.80" stroke="#56698a" stroke-width="0.9"/><line x1="443.50" y1="72.80" x2="443.50" y2="78.80" stroke="#56698a" stroke-width="0.9"/><line x1="462.00" y1="80.30" x2="462.00" y2="86.30" stroke="#56698a" stroke-width="0.9"/><line x1="466.00" y1="80.30" x2="466.00" y2="86.30" stroke="#56698a" stroke-width="0.9"/><line x1="472.50" y1="80.30" x2="472.50" y2="86.30" stroke="#56698a" stroke-width="0.9"/><line x1="476.00" y1="80.30" x2="476.00" y2="86.30" stroke="#56698a" stroke-width="0.9"/><line x1="480.00" y1="80.30" x2="480.00" y2="86.30" stroke="#56698a" stroke-width="0.9"/><line x1="485.00" y1="80.30" x2="485.00" y2="86.30" stroke="#56698a" stroke-width="0.9"/><line x1="501.30" y1="80.30" x2="501.30" y2="86.30" stroke="#56698a" stroke-width="0.9"/><line x1="503.30" y1="80.30" x2="503.30" y2="86.30" stroke="#56698a" stroke-width="0.9"/><path d="M76.70,299.50H78.00V302.00H80.00V303.50H82.00V305.00H84.00V306.50H86.00V308.00H87.00V311.00H88.00V314.00H89.00V317.00H89.50V318.50H93.00V322.00H94.00V326.00H96.00V328.00H97.50V330.00H101.00V333.00H103.00V336.00H104.00V338.50H114.40V340.90H125.00V343.50H127.00V346.00H128.00V347.50H147.90V350.30H181.30V355.10H240.80" fill="none" stroke="#163f74" stroke-width="2.0"/><line x1="110.40" y1="335.50" x2="110.40" y2="341.50" stroke="#56698a" stroke-width="0.9"/><line x1="120.50" y1="337.90" x2="120.50" y2="343.90" stroke="#56698a" stroke-width="0.9"/><line x1="122.00" y1="337.90" x2="122.00" y2="343.90" stroke="#56698a" stroke-width="0.9"/><line x1="134.60" y1="344.50" x2="134.60" y2="350.50" stroke="#56698a" stroke-width="0.9"/><line x1="154.80" y1="347.30" x2="154.80" y2="353.30" stroke="#56698a" stroke-width="0.9"/><line x1="165.00" y1="347.30" x2="165.00" y2="353.30" stroke="#56698a" stroke-width="0.9"/><line x1="166.90" y1="347.30" x2="166.90" y2="353.30" stroke="#56698a" stroke-width="0.9"/><line x1="187.50" y1="352.10" x2="187.50" y2="358.10" stroke="#56698a" stroke-width="0.9"/><line x1="190.00" y1="352.10" x2="190.00" y2="358.10" stroke="#56698a" stroke-width="0.9"/><line x1="197.70" y1="352.10" x2="197.70" y2="358.10" stroke="#56698a" stroke-width="0.9"/><line x1="204.60" y1="352.10" x2="204.60" y2="358.10" stroke="#56698a" stroke-width="0.9"/><line x1="208.50" y1="352.10" x2="208.50" y2="358.10" stroke="#56698a" stroke-width="0.9"/><line x1="210.40" y1="352.10" x2="210.40" y2="358.10" stroke="#56698a" stroke-width="0.9"/><line x1="226.00" y1="352.10" x2="226.00" y2="358.10" stroke="#56698a" stroke-width="0.9"/><line x1="228.00" y1="352.10" x2="228.00" y2="358.10" stroke="#56698a" stroke-width="0.9"/><path d="M348.10,300.30H352.00V302.50H354.00V305.00H355.00V307.50H359.00V311.00H361.00V313.50H362.50V316.00H364.00V318.50H366.00V321.00H367.00V324.00H368.00V327.00H386.00V330.80H388.00V334.00H394.00V337.00H396.00V340.00H398.00V343.50H399.50V347.20H418.30V352.40H455.00V359.20H511.90" fill="none" stroke="#163f74" stroke-width="2.0"/><line x1="371.60" y1="324.00" x2="371.60" y2="330.00" stroke="#56698a" stroke-width="0.9"/><line x1="376.70" y1="324.00" x2="376.70" y2="330.00" stroke="#56698a" stroke-width="0.9"/><line x1="381.40" y1="324.00" x2="381.40" y2="330.00" stroke="#56698a" stroke-width="0.9"/><line x1="416.00" y1="344.20" x2="416.00" y2="350.20" stroke="#56698a" stroke-width="0.9"/><line x1="430.80" y1="349.40" x2="430.80" y2="355.40" stroke="#56698a" stroke-width="0.9"/><line x1="450.80" y1="349.40" x2="450.80" y2="355.40" stroke="#56698a" stroke-width="0.9"/><line x1="460.00" y1="356.20" x2="460.00" y2="362.20" stroke="#56698a" stroke-width="0.9"/><line x1="469.60" y1="356.20" x2="469.60" y2="362.20" stroke="#56698a" stroke-width="0.9"/><line x1="475.80" y1="356.20" x2="475.80" y2="362.20" stroke="#56698a" stroke-width="0.9"/><line x1="489.60" y1="356.20" x2="489.60" y2="362.20" stroke="#56698a" stroke-width="0.9"/><line x1="503.70" y1="356.20" x2="503.70" y2="362.20" stroke="#56698a" stroke-width="0.9"/><path d="M76.70,42.50H79.20V50.60H93.20V65.10H117.70V72.70H129.30V81.40H227.40" fill="none" stroke="#bb1130" stroke-width="1.9"/><line x1="107.30" y1="62.10" x2="107.30" y2="68.10" stroke="#7e4050" stroke-width="0.9"/><line x1="135.20" y1="78.40" x2="135.20" y2="84.40" stroke="#7e4050" stroke-width="0.9"/><line x1="142.30" y1="78.40" x2="142.30" y2="84.40" stroke="#7e4050" stroke-width="0.9"/><line x1="158.50" y1="78.40" x2="158.50" y2="84.40" stroke="#7e4050" stroke-width="0.9"/><line x1="175.20" y1="78.40" x2="175.20" y2="84.40" stroke="#7e4050" stroke-width="0.9"/><line x1="192.50" y1="78.40" x2="192.50" y2="84.40" stroke="#7e4050" stroke-width="0.9"/><line x1="227.40" y1="78.40" x2="227.40" y2="84.40" stroke="#7e4050" stroke-width="0.9"/><path d="M348.10,28.70H351.20V36.00H356.50V43.60H359.20V50.60H386.30V58.10H407.50V68.40H420.70V81.20H499.20" fill="none" stroke="#bb1130" stroke-width="1.9"/><line x1="429.50" y1="78.20" x2="429.50" y2="84.20" stroke="#7e4050" stroke-width="0.9"/><line x1="446.50" y1="78.20" x2="446.50" y2="84.20" stroke="#7e4050" stroke-width="0.9"/><line x1="463.50" y1="78.20" x2="463.50" y2="84.20" stroke="#7e4050" stroke-width="0.9"/><line x1="499.20" y1="78.20" x2="499.20" y2="84.20" stroke="#7e4050" stroke-width="0.9"/><path d="M76.70,294.60H88.80V312.80H113.80V322.20H124.80V332.70H223.50" fill="none" stroke="#bb1130" stroke-width="1.9"/><line x1="103.00" y1="309.80" x2="103.00" y2="315.80" stroke="#7e4050" stroke-width="0.9"/><line x1="127.70" y1="329.70" x2="127.70" y2="335.70" stroke="#7e4050" stroke-width="0.9"/><line x1="130.90" y1="329.70" x2="130.90" y2="335.70" stroke="#7e4050" stroke-width="0.9"/><line x1="138.10" y1="329.70" x2="138.10" y2="335.70" stroke="#7e4050" stroke-width="0.9"/><line x1="154.20" y1="329.70" x2="154.20" y2="335.70" stroke="#7e4050" stroke-width="0.9"/><line x1="171.20" y1="329.70" x2="171.20" y2="335.70" stroke="#7e4050" stroke-width="0.9"/><line x1="188.50" y1="329.70" x2="188.50" y2="335.70" stroke="#7e4050" stroke-width="0.9"/><line x1="223.50" y1="329.70" x2="223.50" y2="335.70" stroke="#7e4050" stroke-width="0.9"/><path d="M348.10,294.60H349.90V303.50H356.80V321.80H459.40" fill="none" stroke="#bb1130" stroke-width="1.9"/><line x1="360.60" y1="318.80" x2="360.60" y2="324.80" stroke="#7e4050" stroke-width="0.9"/><line x1="384.60" y1="318.80" x2="384.60" y2="324.80" stroke="#7e4050" stroke-width="0.9"/><line x1="389.30" y1="318.80" x2="389.30" y2="324.80" stroke="#7e4050" stroke-width="0.9"/><line x1="402.50" y1="318.80" x2="402.50" y2="324.80" stroke="#7e4050" stroke-width="0.9"/><line x1="409.80" y1="318.80" x2="409.80" y2="324.80" stroke="#7e4050" stroke-width="0.9"/><line x1="442.70" y1="318.80" x2="442.70" y2="324.80" stroke="#7e4050" stroke-width="0.9"/><line x1="450.80" y1="318.80" x2="450.80" y2="324.80" stroke="#7e4050" stroke-width="0.9"/><line x1="459.40" y1="318.80" x2="459.40" y2="324.80" stroke="#7e4050" stroke-width="0.9"/>
</svg>
</body></html>
